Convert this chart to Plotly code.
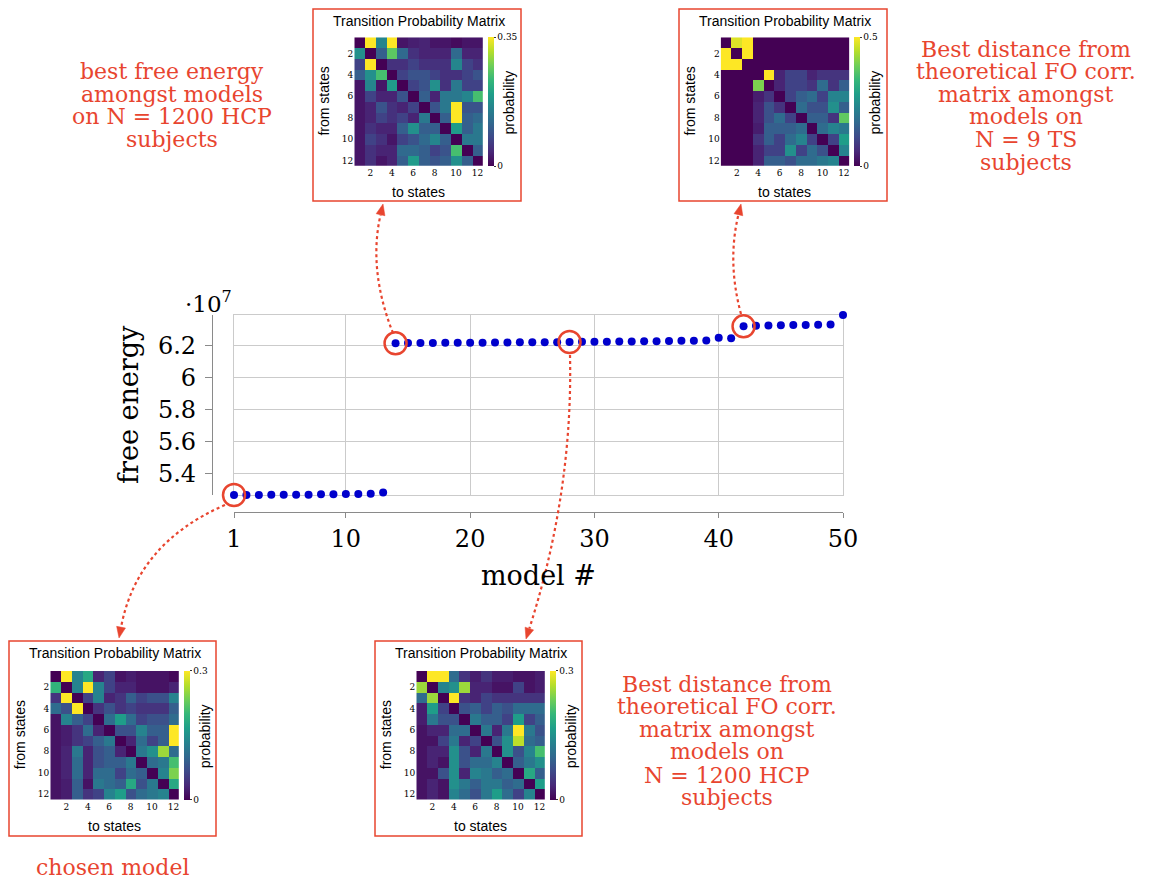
import plotly.graph_objects as go

W, H = 1157, 880
RED = "#E8452F"
SERIF = "DejaVu Serif"
SANS = "Liberation Sans"

# ---------------- data ----------------
models = list(range(1, 51))
free_energy_e7 = [
    5.267, 5.267, 5.267, 5.269, 5.269, 5.269, 5.269, 5.271, 5.271, 5.273,
    5.273, 5.275, 5.282, 6.217, 6.218, 6.219, 6.219, 6.220, 6.220, 6.221,
    6.221, 6.222, 6.222, 6.223, 6.223, 6.224, 6.224, 6.225, 6.226, 6.227,
    6.227, 6.228, 6.228, 6.229, 6.230, 6.231, 6.232, 6.233, 6.234, 6.252,
    6.248, 6.323, 6.327, 6.329, 6.330, 6.331, 6.332, 6.333, 6.335, 6.394,
]
highlighted_models = [1, 14, 28, 42]

x_tick_vals = [1, 10, 20, 30, 40, 50]
y_tick_vals = [5.4, 5.6, 5.8, 6.0, 6.2]
y_tick_text = ["5.4", "5.6", "5.8", "6", "6.2"]

states = list(range(1, 13))
state_ticks = [2, 4, 6, 8, 10, 12]

tpm_best_free_energy = [
    [0, .35, .16, .35, .02, .03, .035, .02, .02, .01, .02, .02],
    [.175, 0, .105, .26, .12, .05, .035, .035, .035, .12, .035, .035],
    [.07, .35, 0, .05, .05, .07, .05, .05, .05, .16, .07, .05],
    [.105, .175, .245, 0, .07, .09, .09, .07, .05, .05, .07, .09],
    [.02, .16, .02, .19, 0, .07, .09, .175, .05, .14, .07, .07],
    [.02, .07, .035, .035, .09, 0, .105, .035, .14, .14, .16, .245],
    [.02, .035, .09, .05, .035, .07, 0, .09, .14, .35, .09, .09],
    [.02, .035, .07, .05, .07, .035, .14, 0, .105, .35, .105, .12],
    [.02, .05, .035, .035, .105, .175, .105, .105, 0, .19, .105, .14],
    [.02, .07, .05, .02, .07, .09, .12, .16, .105, 0, .14, .14],
    [.02, .05, .035, .035, .12, .12, .105, .07, .09, .245, 0, .105],
    [.02, .05, .02, .035, .105, .19, .105, .09, .105, .175, .105, 0],
]
tpm_best_ts = [
    [0, .475, .5, 0, 0, 0, 0, 0, 0, 0, 0, 0],
    [.5, 0, .5, 0, 0, 0, 0, 0, 0, 0, 0, 0],
    [.5, .5, 0, 0, 0, 0, 0, 0, 0, 0, 0, 0],
    [0, 0, 0, 0, .5, .05, .1, .1, .05, .075, .075, .075],
    [0, 0, 0, .4, 0, .05, .1, .1, .075, .175, .075, .15],
    [0, 0, 0, .04, .075, 0, .1, .15, .175, .1, .225, .225],
    [0, 0, 0, .05, .125, .075, 0, .175, .125, .125, .25, .15],
    [0, 0, 0, .05, .125, .175, .1, 0, .15, .15, .075, .375],
    [0, 0, 0, .04, .15, .15, .15, .175, 0, .175, .225, .2],
    [0, 0, 0, .075, .15, .1, .175, .225, .1, 0, .1, .275],
    [0, 0, 0, .05, .1, .1, .25, .1, .175, .125, 0, .225],
    [0, 0, 0, .05, .15, .15, .125, .175, .175, .2, .225, 0],
]
tpm_chosen = [
    [0, .3, .135, .18, .03, .06, .015, .024, .015, .015, .015, .006],
    [.195, 0, .135, .3, .135, .06, .03, .03, .015, .015, .015, .03],
    [.045, .3, 0, .06, .135, .03, .045, .09, .06, .075, .075, .135],
    [.105, .075, .3, 0, .045, .075, .045, .06, .045, .045, .045, .09],
    [.015, .135, .09, .06, 0, .105, .165, .105, .06, .075, .075, .105],
    [.015, .024, .045, .105, .03, 0, .075, .075, .135, .09, .09, .3],
    [.015, .024, .045, .06, .09, .12, 0, .03, .105, .06, .09, .3],
    [.015, .03, .12, .03, .075, .09, .03, 0, .12, .15, .255, .105],
    [.015, .03, .105, .03, .075, .09, .09, .12, 0, .105, .12, .21],
    [.015, .03, .105, .03, .105, .105, .06, .105, .09, 0, .135, .24],
    [.015, .024, .09, .015, .12, .105, .09, .18, .075, .12, 0, .18],
    [.015, .024, .09, .045, .06, .135, .165, .075, .105, .12, .135, 0],
]
tpm_best_hcp = [
    [0, .3, .3, .105, .045, .024, .045, .024, .024, .015, .015, .024],
    [.255, 0, .135, .15, .255, .03, .03, .015, .015, .06, .015, .024],
    [.105, .255, 0, .3, .045, .03, .06, .045, .045, .045, .045, .045],
    [.024, .165, .06, 0, .075, .09, .06, .09, .075, .105, .105, .105],
    [.024, .12, .075, .075, 0, .12, .09, .09, .06, .165, .06, .09],
    [.015, .03, .03, .105, .105, 0, .12, .03, .12, .3, .12, .075],
    [.015, .015, .06, .12, .03, .06, 0, .075, .15, .27, .105, .09],
    [.015, .03, .03, .15, .075, .03, .12, 0, .15, .075, .135, .21],
    [.015, .03, .015, .15, .075, .105, .105, .135, 0, .09, .12, .15],
    [.015, .015, .075, .15, .03, .135, .12, .09, .105, 0, .18, .09],
    [.015, .03, .015, .15, .12, .09, .12, .12, .09, .105, 0, .165],
    [.015, .03, .015, .135, .105, .075, .12, .165, .105, .06, .135, 0],
]
tpm_max = [0.35, 0.5, 0.3, 0.3]
tpm_max_text = ["0.35", "0.5", "0.3", "0.3"]

# ---------------- helpers ----------------
def px(x):
    return x / W


def py(y):
    return 1 - y / H


fig = go.Figure()

# main plot area (pixels)
PL, PR, PT, PB = 234, 843, 315, 495
y_lo, y_hi = min(free_energy_e7), max(free_energy_e7)

fig.add_trace(go.Scatter(
    x=models, y=free_energy_e7, mode="markers",
    marker=dict(color="#0000CC", size=8, line=dict(width=0)), cliponaxis=False,
    showlegend=False, hoverinfo="x+y", xaxis="x", yaxis="y"))
fig.add_trace(go.Scatter(
    x=highlighted_models,
    y=[free_energy_e7[m - 1] for m in highlighted_models],
    mode="markers", cliponaxis=False,
    marker=dict(symbol="circle-open", size=22, line=dict(color=RED, width=2.5), color=RED),
    showlegend=False, hoverinfo="skip", xaxis="x", yaxis="y"))
# invisible copy so the offset axes are drawn
fig.add_trace(go.Scatter(
    x=models, y=free_energy_e7, mode="markers", marker=dict(opacity=0),
    showlegend=False, hoverinfo="skip", xaxis="x2", yaxis="y2"))

layout = dict(
    width=W, height=H, margin=dict(l=0, r=0, t=0, b=0),
    template="none", paper_bgcolor="white", plot_bgcolor="white",
    xaxis=dict(domain=[px(PL), px(PR)], range=[1, 50], tickvals=x_tick_vals,
               showticklabels=False, ticks="", showgrid=True, gridcolor="#CBCBCB",
               gridwidth=1, zeroline=False, showline=True, mirror=True,
               linecolor="#CBCBCB", linewidth=1.2, anchor="y", layer="below traces"),
    yaxis=dict(domain=[py(PB), py(PT)], range=[y_lo, y_hi], tickvals=y_tick_vals,
               showticklabels=False, ticks="", showgrid=True, gridcolor="#CBCBCB",
               gridwidth=1, zeroline=False, showline=True, mirror=True,
               linecolor="#CBCBCB", linewidth=1.2, anchor="x", layer="below traces"),
    xaxis2=dict(overlaying="x", anchor="free", position=py(512), side="bottom",
                range=[1, 50], tickvals=x_tick_vals, ticks="outside", ticklen=5,
                tickcolor="#8A8A8A", showline=True, linecolor="#8A8A8A", linewidth=1.2,
                showgrid=False, zeroline=False, ticklabelstandoff=0,
                tickfont=dict(family=SERIF, size=24, color="black")),
    yaxis2=dict(overlaying="y", anchor="free", position=px(212), side="left",
                range=[y_lo, y_hi], tickvals=y_tick_vals, ticktext=y_tick_text,
                ticks="outside", ticklen=7, tickcolor="#8A8A8A", showline=True,
                linecolor="#8A8A8A", linewidth=1.2, showgrid=False, zeroline=False,
                ticklabelstandoff=4,
                tickfont=dict(family=SERIF, size=24, color="black")),
)

annotations = [
    dict(text="free energy", x=px(128), y=py(405), textangle=-90,
         font=dict(family=SERIF, size=27, color="black")),
    dict(text="model #", x=px(538), y=py(575),
         font=dict(family=SERIF, size=27, color="black")),
    dict(text="·10<sup>7</sup>", x=px(183), y=py(302), xanchor="left",
         font=dict(family=SERIF, size=23, color="black")),
]

shapes = []

# ---------------- insets ----------------
insets = [
    # matrix, box left, box top, box right, box bottom, heat left, heat top
    (tpm_best_free_energy, 313, 9, 521, 201, 354.3, 37.3),
    (tpm_best_ts, 679, 9, 887, 201, 720.7, 37.3),
    (tpm_chosen, 9, 641, 216, 836, 50.3, 671.0),
    (tpm_best_hcp, 375, 641, 582, 836, 416.3, 671.0),
]
HS = 128.5
for i, (mat, bl, bt, br, bb, hl, ht) in enumerate(insets):
    ax_n = i + 3
    xa, ya = f"x{ax_n}", f"y{ax_n}"
    fig.add_trace(go.Heatmap(
        z=mat, x=states, y=states, colorscale="Viridis", zmin=0, zmax=tpm_max[i],
        xaxis=xa, yaxis=ya, hoverinfo="z",
        colorbar=dict(x=px(hl + HS + 5), xanchor="left", xpad=0,
                      y=py(ht + HS / 2), yanchor="middle", ypad=0,
                      lenmode="pixels", len=HS, thickness=6, outlinewidth=0,
                      tickvals=[0, tpm_max[i]], ticktext=["0", tpm_max_text[i]],
                      ticks="outside", ticklen=2, tickcolor="#333",
                      tickfont=dict(family=SERIF, size=9, color="black"))))
    layout[f"xaxis{ax_n}"] = dict(
        domain=[px(hl), px(hl + HS)], anchor=ya, range=[0.5, 12.5],
        tickvals=state_ticks, ticks="", showgrid=False, zeroline=False,
        showline=False, tickfont=dict(family=SERIF, size=9, color="black"))
    layout[f"yaxis{ax_n}"] = dict(
        domain=[py(ht + HS), py(ht)], anchor=xa, range=[12.5, 0.5],
        tickvals=state_ticks, ticks="", showgrid=False, zeroline=False,
        showline=False, tickfont=dict(family=SERIF, size=9, color="black"))
    shapes.append(dict(type="rect", xref="paper", yref="paper",
                       x0=px(bl), x1=px(br), y0=py(bb), y1=py(bt),
                       line=dict(color=RED, width=1.5), fillcolor="rgba(0,0,0,0)"))
    cx = hl + HS / 2
    annotations += [
        dict(text="Transition Probability Matrix", x=px(cx), y=py(bt + 11.7),
             font=dict(family=SANS, size=14, color="black")),
        dict(text="from states", x=px(bl + 11), y=py(ht + HS / 2), textangle=-90,
             font=dict(family=SANS, size=14, color="black")),
        dict(text="to states", x=px(cx), y=py(ht + HS + 26),
             font=dict(family=SANS, size=14, color="black")),
        dict(text="probability", x=px(bl + 196), y=py(ht + HS / 2 + 1), textangle=-90,
             font=dict(family=SANS, size=14, color="black")),
    ]

# ---------------- red notes ----------------
notes = [
    (172, [73, 96, 118, 140],
     ["best free energy", "amongst models", "on N = 1200 HCP", "subjects"]),
    (1026, [50.5, 72.5, 95, 117.5, 141, 163],
     ["Best distance from", "theoretical FO corr.", "matrix amongst", "models on",
      "N = 9 TS", "subjects"]),
    (727, [685.5, 707.5, 730, 752.5, 776, 798],
     ["Best distance from", "theoretical FO corr.", "matrix amongst", "models on",
      "N = 1200 HCP", "subjects"]),
    (112, [868], ["chosen model"]),
]
for cxn, ys, lines in notes:
    for yy, t in zip(ys, lines):
        annotations.append(dict(text=t, x=px(cxn), y=py(yy - 1),
                                font=dict(family=SERIF, size=22, color=RED)))

# ---------------- dotted connector arrows ----------------
connectors = [
    # start, control, tip
    ((393, 333), (368, 270), (383, 204)),
    ((741, 314), (727, 262), (741, 204)),
    ((225, 505), (137, 543), (119, 638)),
    ((570, 355), (573, 492), (526, 639)),
]
for (x0, y0), (cxp, cyp), (x1, y1) in connectors:
    dx, dy = x1 - cxp, y1 - cyp
    n = (dx * dx + dy * dy) ** 0.5
    ux, uy = dx / n, dy / n
    L, hw = 11, 4.5
    bx, by = x1 - ux * L, y1 - uy * L
    shapes.append(dict(
        type="path", xref="paper", yref="paper",
        path=f"M {px(x0)},{py(y0)} Q {px(cxp)},{py(cyp)} {px(bx)},{py(by)}",
        line=dict(color=RED, width=2.2, dash="dot")))
    qx, qy = -uy, ux
    shapes.append(dict(
        type="path", xref="paper", yref="paper",
        path=(f"M {px(x1)},{py(y1)} L {px(bx + qx * hw)},{py(by + qy * hw)} "
              f"L {px(bx - qx * hw)},{py(by - qy * hw)} Z"),
        line=dict(color=RED, width=0.5), fillcolor=RED))

for a in annotations:
    a.setdefault("xref", "paper")
    a.setdefault("yref", "paper")
    a.setdefault("showarrow", False)
    a.setdefault("xanchor", "center")
    a.setdefault("yanchor", "middle")

layout["annotations"] = annotations
layout["shapes"] = shapes
fig.update_layout(**layout)
fig.write_html("out.html")
